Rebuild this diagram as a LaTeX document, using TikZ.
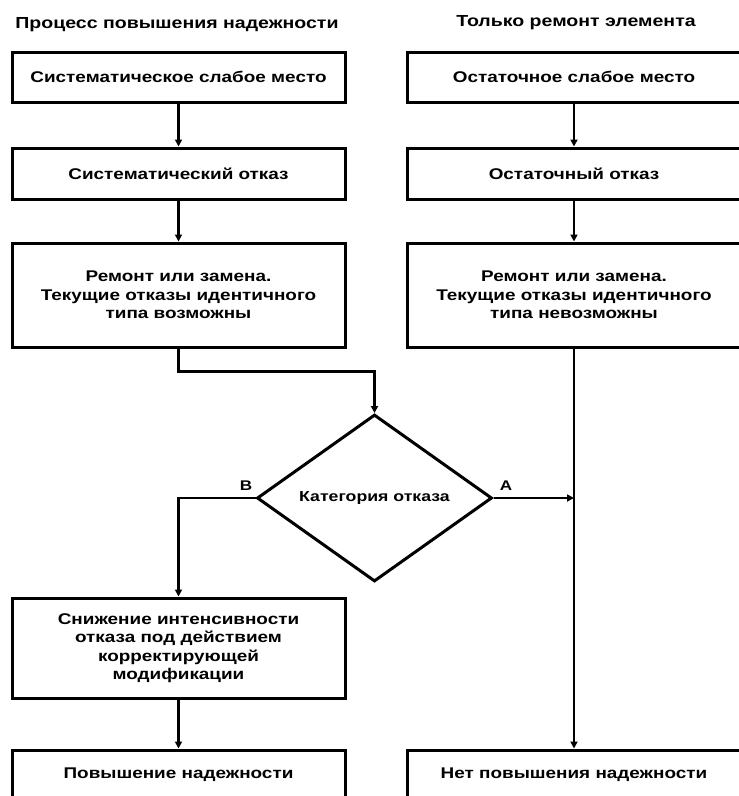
\documentclass[tikz,border=0pt]{standalone}
\usepackage{fontspec}
\setmainfont[FakeStretch=1.22]{Liberation Sans}
\usetikzlibrary{shapes.geometric,arrows.meta}
\begin{document}
\begin{tikzpicture}[x=1pt,y=-1pt,
  box/.style={draw,line width=3pt,align=center,inner sep=0pt,font=\fontsize{15.5}{18.5}\selectfont\bfseries},
  lcol/.style={box,minimum width=333pt},
  rcol/.style={box,minimum width=334pt},
  ttl/.style={font=\fontsize{16}{18}\selectfont\bfseries,inner sep=0pt},
  lbl/.style={font=\fontsize{14}{16}\selectfont\bfseries,inner sep=0pt},
  arr/.style={line width=2.6pt,-{Triangle[length=7pt,width=7pt]}},
  ln/.style={line width=2.6pt}]
\path[use as bounding box,fill=white] (0,0) rectangle (739,796);

\node[ttl] (tl) at (177,25) {Процесс повышения надежности};
\node[ttl] (tr) at (576,23) {Только ремонт элемента};

\node[lcol,minimum height=50pt] (b1) at (178.5,77) {Систематическое слабое место};
\node[lcol,minimum height=51pt] (b2) at (178.5,173.5) {Систематический отказ};
\node[lcol,minimum height=104pt] (b3) at (178.5,295) {Ремонт или замена.\\Текущие отказы идентичного\\типа возможны};
\node[lcol,minimum height=100pt] (b4) at (178.5,648) {Снижение интенсивности\\отказа под действием\\корректирующей\\модификации};
\node[lcol,minimum height=49pt] (b5) at (178.5,774.5) {Повышение надежности};

\node[rcol,minimum height=50pt] (r1) at (574,77) {Остаточное слабое место};
\node[rcol,minimum height=51pt] (r2) at (574,173.5) {Остаточный отказ};
\node[rcol,minimum height=104pt] (r3) at (574,295) {Ремонт или замена.\\Текущие отказы идентичного\\типа невозможны};
\node[rcol,minimum height=49pt] (r5) at (574,774.5) {Нет повышения надежности};

\node[draw,shape=diamond,line width=3pt,aspect=1.4,inner sep=0pt,minimum width=235pt,minimum height=167pt,font=\fontsize{14.5}{18}\selectfont\bfseries] (d) at (374.5,498) {Категория отказа};

\node[lbl] (lb) at (246,486) {В};
\node[lbl] (la) at (506,486) {А};

\draw[arr] (b1) -- (b2);
\draw[arr] (b2) -- (b3);
\draw[arr] (b3.south) -- ++(0,23) -| (d.north);
\draw[arr] (d.west) -| (b4.north);
\draw[arr] (b4) -- (b5);

\draw[arr] (r1) -- (r2);
\draw[arr] (r2) -- (r3);
\draw[arr] (r3) -- (r5);
\draw[arr] (d.east) -- (d.east -| r3.south);
\end{tikzpicture}
\end{document}
